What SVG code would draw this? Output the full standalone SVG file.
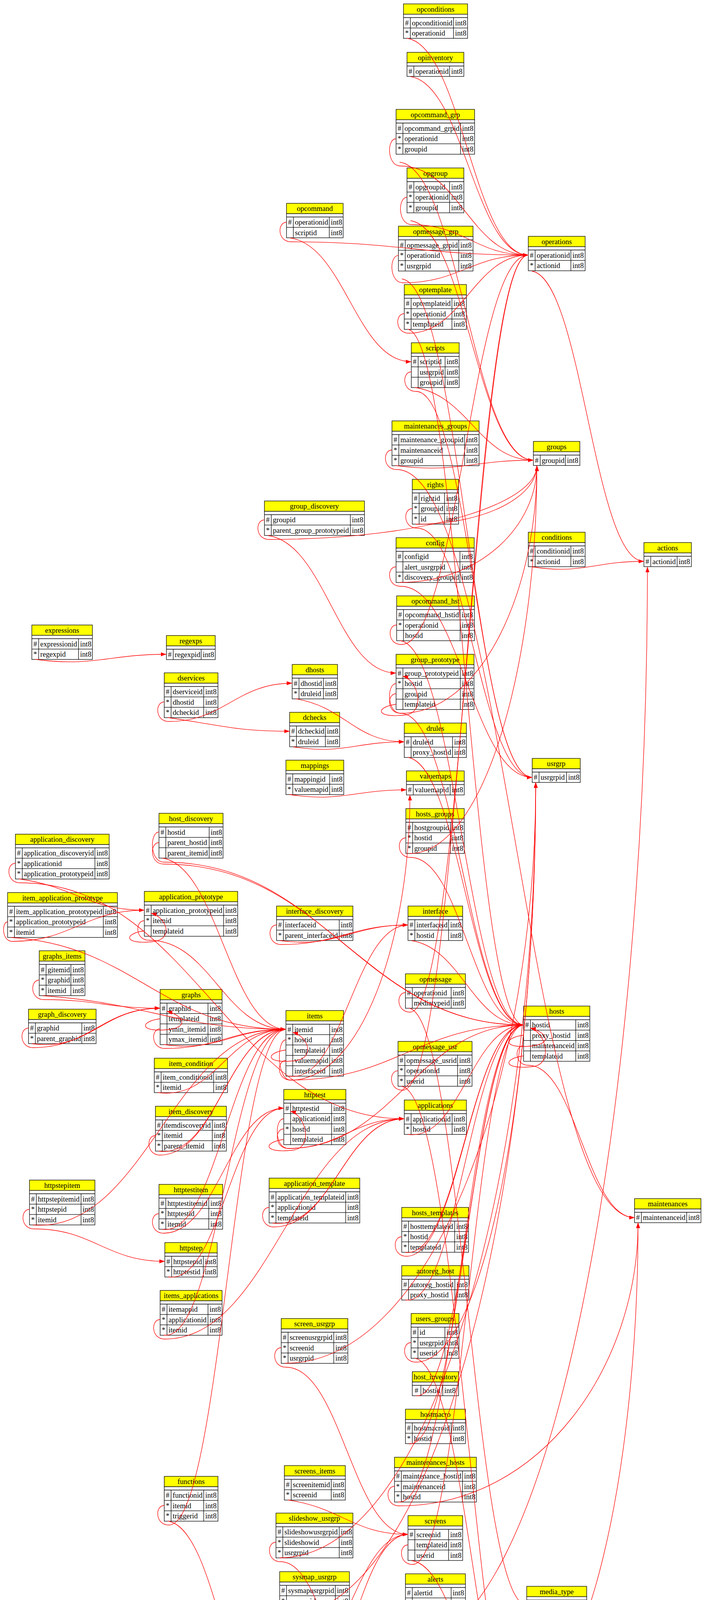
<svg xmlns="http://www.w3.org/2000/svg" width="1810" height="5723" viewBox="0 0 1810 5723">
<style>
text{font-family:"Liberation Serif","Times New Roman",serif;font-size:18.67px;fill:#000}
.t{text-anchor:middle}
.h{fill:#ff0;stroke:#000;stroke-width:1.3}
.b{fill:#fff;stroke:#000;stroke-width:1.3}
#nodes path{fill:none;stroke:#000;stroke-width:1.3}
#edges path{fill:none;stroke:#f00;stroke-width:1.3;marker-end:url(#ah)}
</style>
<defs><marker id="ah" markerUnits="userSpaceOnUse" markerWidth="14" markerHeight="10" refX="14" refY="5" orient="auto"><path d="M0,0L14,5L0,10z" fill="#f00"/></marker></defs>
<rect width="1810" height="5723" fill="#fff"/>
<g id="nodes">
<g id="opconditions" transform="translate(1033 10)"><rect class="h" width="164" height="26.5"/><rect class="b" y="26.5" width="164" height="61.7"/><path d="M0 35H164M0 61.6H164M17.5 35V88.2M128 35V88.2"/><text class="t" x="82" y="19.5">opconditions</text><text y="54.5"><tspan x="4">#</tspan><tspan x="21.5">opconditionid</tspan><tspan x="132">int8</tspan></text><text y="81.1"><tspan x="4">*</tspan><tspan x="21.5">operationid</tspan><tspan x="132">int8</tspan></text></g>
<g id="opinventory" transform="translate(1042 134)"><rect class="h" width="145.5" height="26.5"/><rect class="b" y="26.5" width="145.5" height="35.1"/><path d="M0 35H145.5M17.5 35V61.6M109 35V61.6"/><text class="t" x="72.75" y="19.5">opinventory</text><text y="54.5"><tspan x="4">#</tspan><tspan x="21.5">operationid</tspan><tspan x="113">int8</tspan></text></g>
<g id="opcommand_grp" transform="translate(1014 280)"><rect class="h" width="201" height="26.5"/><rect class="b" y="26.5" width="201" height="88.3"/><path d="M0 35H201M0 61.6H201M0 88.2H201M17.5 35V114.8M165 35V114.8"/><text class="t" x="100.5" y="19.5">opcommand_grp</text><text y="54.5"><tspan x="4">#</tspan><tspan x="21.5">opcommand_grpid</tspan><tspan x="169">int8</tspan></text><text y="81.1"><tspan x="4">*</tspan><tspan x="21.5">operationid</tspan><tspan x="169">int8</tspan></text><text y="107.7"><tspan x="4">*</tspan><tspan x="21.5">groupid</tspan><tspan x="169">int8</tspan></text></g>
<g id="opgroup" transform="translate(1042 430)"><rect class="h" width="145.5" height="26.5"/><rect class="b" y="26.5" width="145.5" height="88.3"/><path d="M0 35H145.5M0 61.6H145.5M0 88.2H145.5M17.5 35V114.8M109 35V114.8"/><text class="t" x="72.75" y="19.5">opgroup</text><text y="54.5"><tspan x="4">#</tspan><tspan x="21.5">opgroupid</tspan><tspan x="113">int8</tspan></text><text y="81.1"><tspan x="4">*</tspan><tspan x="21.5">operationid</tspan><tspan x="113">int8</tspan></text><text y="107.7"><tspan x="4">*</tspan><tspan x="21.5">groupid</tspan><tspan x="113">int8</tspan></text></g>
<g id="opmessage_grp" transform="translate(1020 579)"><rect class="h" width="191" height="26.5"/><rect class="b" y="26.5" width="191" height="88.3"/><path d="M0 35H191M0 61.6H191M0 88.2H191M17.5 35V114.8M154.5 35V114.8"/><text class="t" x="95.5" y="19.5">opmessage_grp</text><text y="54.5"><tspan x="4">#</tspan><tspan x="21.5">opmessage_grpid</tspan><tspan x="158.5">int8</tspan></text><text y="81.1"><tspan x="4">*</tspan><tspan x="21.5">operationid</tspan><tspan x="158.5">int8</tspan></text><text y="107.7"><tspan x="4">*</tspan><tspan x="21.5">usrgrpid</tspan><tspan x="158.5">int8</tspan></text></g>
<g id="optemplate" transform="translate(1035 728.5)"><rect class="h" width="159" height="26.5"/><rect class="b" y="26.5" width="159" height="88.3"/><path d="M0 35H159M0 61.6H159M0 88.2H159M17.5 35V114.8M122 35V114.8"/><text class="t" x="79.5" y="19.5">optemplate</text><text y="54.5"><tspan x="4">#</tspan><tspan x="21.5">optemplateid</tspan><tspan x="126">int8</tspan></text><text y="81.1"><tspan x="4">*</tspan><tspan x="21.5">operationid</tspan><tspan x="126">int8</tspan></text><text y="107.7"><tspan x="4">*</tspan><tspan x="21.5">templateid</tspan><tspan x="126">int8</tspan></text></g>
<g id="opcommand" transform="translate(733.5 520.5)"><rect class="h" width="145" height="26.5"/><rect class="b" y="26.5" width="145" height="61.7"/><path d="M0 35H145M0 61.6H145M17.5 35V88.2M109.5 35V88.2"/><text class="t" x="72.5" y="19.5">opcommand</text><text y="54.5"><tspan x="4">#</tspan><tspan x="21.5">operationid</tspan><tspan x="113.5">int8</tspan></text><text y="81.1"><tspan x="21.5">scriptid</tspan><tspan x="113.5">int8</tspan></text></g>
<g id="scripts" transform="translate(1053 877.5)"><rect class="h" width="122.5" height="26.5"/><rect class="b" y="26.5" width="122.5" height="88.3"/><path d="M0 35H122.5M0 61.6H122.5M0 88.2H122.5M17.5 35V114.8M86.5 35V114.8"/><text class="t" x="61.25" y="19.5">scripts</text><text y="54.5"><tspan x="4">#</tspan><tspan x="21.5">scriptid</tspan><tspan x="90.5">int8</tspan></text><text y="81.1"><tspan x="21.5">usrgrpid</tspan><tspan x="90.5">int8</tspan></text><text y="107.7"><tspan x="21.5">groupid</tspan><tspan x="90.5">int8</tspan></text></g>
<g id="maintenances_groups" transform="translate(1003.5 1077.5)"><rect class="h" width="223" height="26.5"/><rect class="b" y="26.5" width="223" height="88.3"/><path d="M0 35H223M0 61.6H223M0 88.2H223M17.5 35V114.8M186 35V114.8"/><text class="t" x="111.5" y="19.5">maintenances_groups</text><text y="54.5"><tspan x="4">#</tspan><tspan x="21.5">maintenance_groupid</tspan><tspan x="190">int8</tspan></text><text y="81.1"><tspan x="4">*</tspan><tspan x="21.5">maintenanceid</tspan><tspan x="190">int8</tspan></text><text y="107.7"><tspan x="4">*</tspan><tspan x="21.5">groupid</tspan><tspan x="190">int8</tspan></text></g>
<g id="rights" transform="translate(1055.5 1227)"><rect class="h" width="118.5" height="26.5"/><rect class="b" y="26.5" width="118.5" height="88.3"/><path d="M0 35H118.5M0 61.6H118.5M0 88.2H118.5M17.5 35V114.8M82.5 35V114.8"/><text class="t" x="59.25" y="19.5">rights</text><text y="54.5"><tspan x="4">#</tspan><tspan x="21.5">rightid</tspan><tspan x="86.5">int8</tspan></text><text y="81.1"><tspan x="4">*</tspan><tspan x="21.5">groupid</tspan><tspan x="86.5">int8</tspan></text><text y="107.7"><tspan x="4">*</tspan><tspan x="21.5">id</tspan><tspan x="86.5">int8</tspan></text></g>
<g id="config" transform="translate(1014 1376.5)"><rect class="h" width="200" height="26.5"/><rect class="b" y="26.5" width="200" height="88.3"/><path d="M0 35H200M0 61.6H200M0 88.2H200M17.5 35V114.8M163.5 35V114.8"/><text class="t" x="100" y="19.5">config</text><text y="54.5"><tspan x="4">#</tspan><tspan x="21.5">configid</tspan><tspan x="167.5">int8</tspan></text><text y="81.1"><tspan x="21.5">alert_usrgrpid</tspan><tspan x="167.5">int8</tspan></text><text y="107.7"><tspan x="4">*</tspan><tspan x="21.5">discovery_groupid</tspan><tspan x="167.5">int8</tspan></text></g>
<g id="opcommand_hst" transform="translate(1015.5 1525.5)"><rect class="h" width="199" height="26.5"/><rect class="b" y="26.5" width="199" height="88.3"/><path d="M0 35H199M0 61.6H199M0 88.2H199M17.5 35V114.8M162.5 35V114.8"/><text class="t" x="99.5" y="19.5">opcommand_hst</text><text y="54.5"><tspan x="4">#</tspan><tspan x="21.5">opcommand_hstid</tspan><tspan x="166.5">int8</tspan></text><text y="81.1"><tspan x="4">*</tspan><tspan x="21.5">operationid</tspan><tspan x="166.5">int8</tspan></text><text y="107.7"><tspan x="21.5">hostid</tspan><tspan x="166.5">int8</tspan></text></g>
<g id="group_discovery" transform="translate(677 1282.5)"><rect class="h" width="256" height="26.5"/><rect class="b" y="26.5" width="256" height="61.7"/><path d="M0 35H256M0 61.6H256M17.5 35V88.2M220 35V88.2"/><text class="t" x="128" y="19.5">group_discovery</text><text y="54.5"><tspan x="4">#</tspan><tspan x="21.5">groupid</tspan><tspan x="224">int8</tspan></text><text y="81.1"><tspan x="4">*</tspan><tspan x="21.5">parent_group_prototypeid</tspan><tspan x="224">int8</tspan></text></g>
<g id="operations" transform="translate(1352.5 605)"><rect class="h" width="145.5" height="26.5"/><rect class="b" y="26.5" width="145.5" height="61.7"/><path d="M0 35H145.5M0 61.6H145.5M17.5 35V88.2M109 35V88.2"/><text class="t" x="72.75" y="19.5">operations</text><text y="54.5"><tspan x="4">#</tspan><tspan x="21.5">operationid</tspan><tspan x="113">int8</tspan></text><text y="81.1"><tspan x="4">*</tspan><tspan x="21.5">actionid</tspan><tspan x="113">int8</tspan></text></g>
<g id="groups" transform="translate(1365.5 1130)"><rect class="h" width="119" height="26.5"/><rect class="b" y="26.5" width="119" height="35.1"/><path d="M0 35H119M17.5 35V61.6M82 35V61.6"/><text class="t" x="59.5" y="19.5">groups</text><text y="54.5"><tspan x="4">#</tspan><tspan x="21.5">groupid</tspan><tspan x="86">int8</tspan></text></g>
<g id="conditions" transform="translate(1352.5 1362.5)"><rect class="h" width="145.5" height="26.5"/><rect class="b" y="26.5" width="145.5" height="61.7"/><path d="M0 35H145.5M0 61.6H145.5M17.5 35V88.2M109 35V88.2"/><text class="t" x="72.75" y="19.5">conditions</text><text y="54.5"><tspan x="4">#</tspan><tspan x="21.5">conditionid</tspan><tspan x="113">int8</tspan></text><text y="81.1"><tspan x="4">*</tspan><tspan x="21.5">actionid</tspan><tspan x="113">int8</tspan></text></g>
<g id="actions" transform="translate(1648.5 1389)"><rect class="h" width="121.5" height="26.5"/><rect class="b" y="26.5" width="121.5" height="35.1"/><path d="M0 35H121.5M17.5 35V61.6M85 35V61.6"/><text class="t" x="60.75" y="19.5">actions</text><text y="54.5"><tspan x="4">#</tspan><tspan x="21.5">actionid</tspan><tspan x="89">int8</tspan></text></g>
<g id="expressions" transform="translate(81.5 1600)"><rect class="h" width="155" height="26.5"/><rect class="b" y="26.5" width="155" height="61.7"/><path d="M0 35H155M0 61.6H155M17.5 35V88.2M119.5 35V88.2"/><text class="t" x="77.5" y="19.5">expressions</text><text y="54.5"><tspan x="4">#</tspan><tspan x="21.5">expressionid</tspan><tspan x="123.5">int8</tspan></text><text y="81.1"><tspan x="4">*</tspan><tspan x="21.5">regexpid</tspan><tspan x="123.5">int8</tspan></text></g>
<g id="regexps" transform="translate(426 1627)"><rect class="h" width="125" height="26.5"/><rect class="b" y="26.5" width="125" height="35.1"/><path d="M0 35H125M17.5 35V61.6M89 35V61.6"/><text class="t" x="62.5" y="19.5">regexps</text><text y="54.5"><tspan x="4">#</tspan><tspan x="21.5">regexpid</tspan><tspan x="93">int8</tspan></text></g>
<g id="dservices" transform="translate(420.5 1722.5)"><rect class="h" width="137.5" height="26.5"/><rect class="b" y="26.5" width="137.5" height="88.3"/><path d="M0 35H137.5M0 61.6H137.5M0 88.2H137.5M17.5 35V114.8M101 35V114.8"/><text class="t" x="68.75" y="19.5">dservices</text><text y="54.5"><tspan x="4">#</tspan><tspan x="21.5">dserviceid</tspan><tspan x="105">int8</tspan></text><text y="81.1"><tspan x="4">*</tspan><tspan x="21.5">dhostid</tspan><tspan x="105">int8</tspan></text><text y="107.7"><tspan x="4">*</tspan><tspan x="21.5">dcheckid</tspan><tspan x="105">int8</tspan></text></g>
<g id="dhosts" transform="translate(748 1701)"><rect class="h" width="116" height="26.5"/><rect class="b" y="26.5" width="116" height="61.7"/><path d="M0 35H116M0 61.6H116M17.5 35V88.2M80 35V88.2"/><text class="t" x="58" y="19.5">dhosts</text><text y="54.5"><tspan x="4">#</tspan><tspan x="21.5">dhostid</tspan><tspan x="84">int8</tspan></text><text y="81.1"><tspan x="4">*</tspan><tspan x="21.5">druleid</tspan><tspan x="84">int8</tspan></text></g>
<g id="dchecks" transform="translate(741.5 1823.5)"><rect class="h" width="128" height="26.5"/><rect class="b" y="26.5" width="128" height="61.7"/><path d="M0 35H128M0 61.6H128M17.5 35V88.2M91.5 35V88.2"/><text class="t" x="64" y="19.5">dchecks</text><text y="54.5"><tspan x="4">#</tspan><tspan x="21.5">dcheckid</tspan><tspan x="95.5">int8</tspan></text><text y="81.1"><tspan x="4">*</tspan><tspan x="21.5">druleid</tspan><tspan x="95.5">int8</tspan></text></g>
<g id="mappings" transform="translate(732 1946)"><rect class="h" width="148" height="26.5"/><rect class="b" y="26.5" width="148" height="61.7"/><path d="M0 35H148M0 61.6H148M17.5 35V88.2M112 35V88.2"/><text class="t" x="74" y="19.5">mappings</text><text y="54.5"><tspan x="4">#</tspan><tspan x="21.5">mappingid</tspan><tspan x="116">int8</tspan></text><text y="81.1"><tspan x="4">*</tspan><tspan x="21.5">valuemapid</tspan><tspan x="116">int8</tspan></text></g>
<g id="host_discovery" transform="translate(407 2082)"><rect class="h" width="164" height="26.5"/><rect class="b" y="26.5" width="164" height="88.3"/><path d="M0 35H164M0 61.6H164M0 88.2H164M17.5 35V114.8M128.5 35V114.8"/><text class="t" x="82" y="19.5">host_discovery</text><text y="54.5"><tspan x="4">#</tspan><tspan x="21.5">hostid</tspan><tspan x="132.5">int8</tspan></text><text y="81.1"><tspan x="21.5">parent_hostid</tspan><tspan x="132.5">int8</tspan></text><text y="107.7"><tspan x="21.5">parent_itemid</tspan><tspan x="132.5">int8</tspan></text></g>
<g id="application_discovery" transform="translate(39.5 2135.5)"><rect class="h" width="240" height="26.5"/><rect class="b" y="26.5" width="240" height="88.3"/><path d="M0 35H240M0 61.6H240M0 88.2H240M17.5 35V114.8M203.5 35V114.8"/><text class="t" x="120" y="19.5">application_discovery</text><text y="54.5"><tspan x="4">#</tspan><tspan x="21.5">application_discoveryid</tspan><tspan x="207.5">int8</tspan></text><text y="81.1"><tspan x="4">*</tspan><tspan x="21.5">applicationid</tspan><tspan x="207.5">int8</tspan></text><text y="107.7"><tspan x="4">*</tspan><tspan x="21.5">application_prototypeid</tspan><tspan x="207.5">int8</tspan></text></g>
<g id="item_application_prototype" transform="translate(19.5 2285)"><rect class="h" width="281" height="26.5"/><rect class="b" y="26.5" width="281" height="88.3"/><path d="M0 35H281M0 61.6H281M0 88.2H281M17.5 35V114.8M245 35V114.8"/><text class="t" x="140.5" y="19.5">item_application_prototype</text><text y="54.5"><tspan x="4">#</tspan><tspan x="21.5">item_application_prototypeid</tspan><tspan x="249">int8</tspan></text><text y="81.1"><tspan x="4">*</tspan><tspan x="21.5">application_prototypeid</tspan><tspan x="249">int8</tspan></text><text y="107.7"><tspan x="4">*</tspan><tspan x="21.5">itemid</tspan><tspan x="249">int8</tspan></text></g>
<g id="application_prototype" transform="translate(369.5 2282)"><rect class="h" width="239" height="26.5"/><rect class="b" y="26.5" width="239" height="88.3"/><path d="M0 35H239M0 61.6H239M0 88.2H239M17.5 35V114.8M203 35V114.8"/><text class="t" x="119.5" y="19.5">application_prototype</text><text y="54.5"><tspan x="4">#</tspan><tspan x="21.5">application_prototypeid</tspan><tspan x="207">int8</tspan></text><text y="81.1"><tspan x="4">*</tspan><tspan x="21.5">itemid</tspan><tspan x="207">int8</tspan></text><text y="107.7"><tspan x="21.5">templateid</tspan><tspan x="207">int8</tspan></text></g>
<g id="interface_discovery" transform="translate(708 2319.5)"><rect class="h" width="195.5" height="26.5"/><rect class="b" y="26.5" width="195.5" height="61.7"/><path d="M0 35H195.5M0 61.6H195.5M17.5 35V88.2M160.5 35V88.2"/><text class="t" x="97.75" y="19.5">interface_discovery</text><text y="54.5"><tspan x="4">#</tspan><tspan x="21.5">interfaceid</tspan><tspan x="164.5">int8</tspan></text><text y="81.1"><tspan x="4">*</tspan><tspan x="21.5">parent_interfaceid</tspan><tspan x="164.5">int8</tspan></text></g>
<g id="graphs_items" transform="translate(100.5 2434)"><rect class="h" width="117" height="26.5"/><rect class="b" y="26.5" width="117" height="88.3"/><path d="M0 35H117M0 61.6H117M0 88.2H117M17.5 35V114.8M81 35V114.8"/><text class="t" x="58.5" y="19.5">graphs_items</text><text y="54.5"><tspan x="4">#</tspan><tspan x="21.5">gitemid</tspan><tspan x="85">int8</tspan></text><text y="81.1"><tspan x="4">*</tspan><tspan x="21.5">graphid</tspan><tspan x="85">int8</tspan></text><text y="107.7"><tspan x="4">*</tspan><tspan x="21.5">itemid</tspan><tspan x="85">int8</tspan></text></g>
<g id="graphs" transform="translate(410 2533)"><rect class="h" width="158.5" height="26.5"/><rect class="b" y="26.5" width="158.5" height="114.9"/><path d="M0 35H158.5M0 61.6H158.5M0 88.2H158.5M0 114.8H158.5M17.5 35V141.4M122.5 35V141.4"/><text class="t" x="79.25" y="19.5">graphs</text><text y="54.5"><tspan x="4">#</tspan><tspan x="21.5">graphid</tspan><tspan x="126.5">int8</tspan></text><text y="81.1"><tspan x="21.5">templateid</tspan><tspan x="126.5">int8</tspan></text><text y="107.7"><tspan x="21.5">ymin_itemid</tspan><tspan x="126.5">int8</tspan></text><text y="134.3"><tspan x="21.5">ymax_itemid</tspan><tspan x="126.5">int8</tspan></text></g>
<g id="graph_discovery" transform="translate(73 2583.5)"><rect class="h" width="173" height="26.5"/><rect class="b" y="26.5" width="173" height="61.7"/><path d="M0 35H173M0 61.6H173M17.5 35V88.2M136.5 35V88.2"/><text class="t" x="86.5" y="19.5">graph_discovery</text><text y="54.5"><tspan x="4">#</tspan><tspan x="21.5">graphid</tspan><tspan x="140.5">int8</tspan></text><text y="81.1"><tspan x="4">*</tspan><tspan x="21.5">parent_graphid</tspan><tspan x="140.5">int8</tspan></text></g>
<g id="items" transform="translate(732 2587)"><rect class="h" width="147.5" height="26.5"/><rect class="b" y="26.5" width="147.5" height="141.5"/><path d="M0 35H147.5M0 61.6H147.5M0 88.2H147.5M0 114.8H147.5M0 141.4H147.5M17.5 35V168M112 35V168"/><text class="t" x="73.75" y="19.5">items</text><text y="54.5"><tspan x="4">#</tspan><tspan x="21.5">itemid</tspan><tspan x="116">int8</tspan></text><text y="81.1"><tspan x="4">*</tspan><tspan x="21.5">hostid</tspan><tspan x="116">int8</tspan></text><text y="107.7"><tspan x="21.5">templateid</tspan><tspan x="116">int8</tspan></text><text y="134.3"><tspan x="21.5">valuemapid</tspan><tspan x="116">int8</tspan></text><text y="160.9"><tspan x="21.5">interfaceid</tspan><tspan x="116">int8</tspan></text></g>
<g id="item_condition" transform="translate(395 2709)"><rect class="h" width="187.5" height="26.5"/><rect class="b" y="26.5" width="187.5" height="61.7"/><path d="M0 35H187.5M0 61.6H187.5M17.5 35V88.2M152 35V88.2"/><text class="t" x="93.75" y="19.5">item_condition</text><text y="54.5"><tspan x="4">#</tspan><tspan x="21.5">item_conditionid</tspan><tspan x="156">int8</tspan></text><text y="81.1"><tspan x="4">*</tspan><tspan x="21.5">itemid</tspan><tspan x="156">int8</tspan></text></g>
<g id="group_prototype" transform="translate(1014 1675)"><rect class="h" width="199.5" height="26.5"/><rect class="b" y="26.5" width="199.5" height="114.9"/><path d="M0 35H199.5M0 61.6H199.5M0 88.2H199.5M0 114.8H199.5M17.5 35V141.4M164.5 35V141.4"/><text class="t" x="99.75" y="19.5">group_prototype</text><text y="54.5"><tspan x="4">#</tspan><tspan x="21.5">group_prototypeid</tspan><tspan x="168.5">int8</tspan></text><text y="81.1"><tspan x="4">*</tspan><tspan x="21.5">hostid</tspan><tspan x="168.5">int8</tspan></text><text y="107.7"><tspan x="21.5">groupid</tspan><tspan x="168.5">int8</tspan></text><text y="134.3"><tspan x="21.5">templateid</tspan><tspan x="168.5">int8</tspan></text></g>
<g id="drules" transform="translate(1035 1851)"><rect class="h" width="159" height="26.5"/><rect class="b" y="26.5" width="159" height="61.7"/><path d="M0 35H159M0 61.6H159M17.5 35V88.2M123.5 35V88.2"/><text class="t" x="79.5" y="19.5">drules</text><text y="54.5"><tspan x="4">#</tspan><tspan x="21.5">druleid</tspan><tspan x="127.5">int8</tspan></text><text y="81.1"><tspan x="21.5">proxy_hostid</tspan><tspan x="127.5">int8</tspan></text></g>
<g id="valuemaps" transform="translate(1040.5 1973.5)"><rect class="h" width="148" height="26.5"/><rect class="b" y="26.5" width="148" height="35.1"/><path d="M0 35H148M17.5 35V61.6M112 35V61.6"/><text class="t" x="74" y="19.5">valuemaps</text><text y="54.5"><tspan x="4">#</tspan><tspan x="21.5">valuemapid</tspan><tspan x="116">int8</tspan></text></g>
<g id="hosts_groups" transform="translate(1039 2070)"><rect class="h" width="149.5" height="26.5"/><rect class="b" y="26.5" width="149.5" height="88.3"/><path d="M0 35H149.5M0 61.6H149.5M0 88.2H149.5M17.5 35V114.8M114 35V114.8"/><text class="t" x="74.75" y="19.5">hosts_groups</text><text y="54.5"><tspan x="4">#</tspan><tspan x="21.5">hostgroupid</tspan><tspan x="118">int8</tspan></text><text y="81.1"><tspan x="4">*</tspan><tspan x="21.5">hostid</tspan><tspan x="118">int8</tspan></text><text y="107.7"><tspan x="4">*</tspan><tspan x="21.5">groupid</tspan><tspan x="118">int8</tspan></text></g>
<g id="usrgrp" transform="translate(1362.5 1941.5)"><rect class="h" width="123" height="26.5"/><rect class="b" y="26.5" width="123" height="35.1"/><path d="M0 35H123M17.5 35V61.6M88 35V61.6"/><text class="t" x="61.5" y="19.5">usrgrp</text><text y="54.5"><tspan x="4">#</tspan><tspan x="21.5">usrgrpid</tspan><tspan x="92">int8</tspan></text></g>
<g id="interface" transform="translate(1044.5 2319.5)"><rect class="h" width="140" height="26.5"/><rect class="b" y="26.5" width="140" height="61.7"/><path d="M0 35H140M0 61.6H140M17.5 35V88.2M104 35V88.2"/><text class="t" x="70" y="19.5">interface</text><text y="54.5"><tspan x="4">#</tspan><tspan x="21.5">interfaceid</tspan><tspan x="108">int8</tspan></text><text y="81.1"><tspan x="4">*</tspan><tspan x="21.5">hostid</tspan><tspan x="108">int8</tspan></text></g>
<g id="opmessage" transform="translate(1038 2493)"><rect class="h" width="153.5" height="26.5"/><rect class="b" y="26.5" width="153.5" height="61.7"/><path d="M0 35H153.5M0 61.6H153.5M17.5 35V88.2M117 35V88.2"/><text class="t" x="76.75" y="19.5">opmessage</text><text y="54.5"><tspan x="4">#</tspan><tspan x="21.5">operationid</tspan><tspan x="121">int8</tspan></text><text y="81.1"><tspan x="21.5">mediatypeid</tspan><tspan x="121">int8</tspan></text></g>
<g id="hosts" transform="translate(1340.5 2575.5)"><rect class="h" width="169.5" height="26.5"/><rect class="b" y="26.5" width="169.5" height="114.9"/><path d="M0 35H169.5M0 61.6H169.5M0 88.2H169.5M0 114.8H169.5M17.5 35V141.4M133.5 35V141.4"/><text class="t" x="84.75" y="19.5">hosts</text><text y="54.5"><tspan x="4">#</tspan><tspan x="21.5">hostid</tspan><tspan x="137.5">int8</tspan></text><text y="81.1"><tspan x="21.5">proxy_hostid</tspan><tspan x="137.5">int8</tspan></text><text y="107.7"><tspan x="21.5">maintenanceid</tspan><tspan x="137.5">int8</tspan></text><text y="134.3"><tspan x="21.5">templateid</tspan><tspan x="137.5">int8</tspan></text></g>
<g id="opmessage_usr" transform="translate(1019 2666)"><rect class="h" width="189.5" height="26.5"/><rect class="b" y="26.5" width="189.5" height="88.3"/><path d="M0 35H189.5M0 61.6H189.5M0 88.2H189.5M17.5 35V114.8M152.5 35V114.8"/><text class="t" x="94.75" y="19.5">opmessage_usr</text><text y="54.5"><tspan x="4">#</tspan><tspan x="21.5">opmessage_usrid</tspan><tspan x="156.5">int8</tspan></text><text y="81.1"><tspan x="4">*</tspan><tspan x="21.5">operationid</tspan><tspan x="156.5">int8</tspan></text><text y="107.7"><tspan x="4">*</tspan><tspan x="21.5">userid</tspan><tspan x="156.5">int8</tspan></text></g>
<g id="httptest" transform="translate(726.5 2789)"><rect class="h" width="159" height="26.5"/><rect class="b" y="26.5" width="159" height="114.9"/><path d="M0 35H159M0 61.6H159M0 88.2H159M0 114.8H159M17.5 35V141.4M122.5 35V141.4"/><text class="t" x="79.5" y="19.5">httptest</text><text y="54.5"><tspan x="4">#</tspan><tspan x="21.5">httptestid</tspan><tspan x="126.5">int8</tspan></text><text y="81.1"><tspan x="21.5">applicationid</tspan><tspan x="126.5">int8</tspan></text><text y="107.7"><tspan x="4">*</tspan><tspan x="21.5">hostid</tspan><tspan x="126.5">int8</tspan></text><text y="134.3"><tspan x="21.5">templateid</tspan><tspan x="126.5">int8</tspan></text></g>
<g id="item_discovery" transform="translate(398 2832)"><rect class="h" width="181.5" height="26.5"/><rect class="b" y="26.5" width="181.5" height="88.3"/><path d="M0 35H181.5M0 61.6H181.5M0 88.2H181.5M17.5 35V114.8M145.5 35V114.8"/><text class="t" x="90.75" y="19.5">item_discovery</text><text y="54.5"><tspan x="4">#</tspan><tspan x="21.5">itemdiscoveryid</tspan><tspan x="149.5">int8</tspan></text><text y="81.1"><tspan x="4">*</tspan><tspan x="21.5">itemid</tspan><tspan x="149.5">int8</tspan></text><text y="107.7"><tspan x="4">*</tspan><tspan x="21.5">parent_itemid</tspan><tspan x="149.5">int8</tspan></text></g>
<g id="httpstepitem" transform="translate(75.5 3021)"><rect class="h" width="167.5" height="26.5"/><rect class="b" y="26.5" width="167.5" height="88.3"/><path d="M0 35H167.5M0 61.6H167.5M0 88.2H167.5M17.5 35V114.8M132 35V114.8"/><text class="t" x="83.75" y="19.5">httpstepitem</text><text y="54.5"><tspan x="4">#</tspan><tspan x="21.5">httpstepitemid</tspan><tspan x="136">int8</tspan></text><text y="81.1"><tspan x="4">*</tspan><tspan x="21.5">httpstepid</tspan><tspan x="136">int8</tspan></text><text y="107.7"><tspan x="4">*</tspan><tspan x="21.5">itemid</tspan><tspan x="136">int8</tspan></text></g>
<g id="httptestitem" transform="translate(407 3032)"><rect class="h" width="163" height="26.5"/><rect class="b" y="26.5" width="163" height="88.3"/><path d="M0 35H163M0 61.6H163M0 88.2H163M17.5 35V114.8M127.5 35V114.8"/><text class="t" x="81.5" y="19.5">httptestitem</text><text y="54.5"><tspan x="4">#</tspan><tspan x="21.5">httptestitemid</tspan><tspan x="131.5">int8</tspan></text><text y="81.1"><tspan x="4">*</tspan><tspan x="21.5">httptestid</tspan><tspan x="131.5">int8</tspan></text><text y="107.7"><tspan x="4">*</tspan><tspan x="21.5">itemid</tspan><tspan x="131.5">int8</tspan></text></g>
<g id="application_template" transform="translate(689 3016)"><rect class="h" width="232" height="26.5"/><rect class="b" y="26.5" width="232" height="88.3"/><path d="M0 35H232M0 61.6H232M0 88.2H232M17.5 35V114.8M196 35V114.8"/><text class="t" x="116" y="19.5">application_template</text><text y="54.5"><tspan x="4">#</tspan><tspan x="21.5">application_templateid</tspan><tspan x="200">int8</tspan></text><text y="81.1"><tspan x="4">*</tspan><tspan x="21.5">applicationid</tspan><tspan x="200">int8</tspan></text><text y="107.7"><tspan x="4">*</tspan><tspan x="21.5">templateid</tspan><tspan x="200">int8</tspan></text></g>
<g id="httpstep" transform="translate(422 3181)"><rect class="h" width="134" height="26.5"/><rect class="b" y="26.5" width="134" height="61.7"/><path d="M0 35H134M0 61.6H134M17.5 35V88.2M98.5 35V88.2"/><text class="t" x="67" y="19.5">httpstep</text><text y="54.5"><tspan x="4">#</tspan><tspan x="21.5">httpstepid</tspan><tspan x="102.5">int8</tspan></text><text y="81.1"><tspan x="4">*</tspan><tspan x="21.5">httptestid</tspan><tspan x="102.5">int8</tspan></text></g>
<g id="items_applications" transform="translate(410 3303.5)"><rect class="h" width="158.5" height="26.5"/><rect class="b" y="26.5" width="158.5" height="88.3"/><path d="M0 35H158.5M0 61.6H158.5M0 88.2H158.5M17.5 35V114.8M122.5 35V114.8"/><text class="t" x="79.25" y="19.5">items_applications</text><text y="54.5"><tspan x="4">#</tspan><tspan x="21.5">itemappid</tspan><tspan x="126.5">int8</tspan></text><text y="81.1"><tspan x="4">*</tspan><tspan x="21.5">applicationid</tspan><tspan x="126.5">int8</tspan></text><text y="107.7"><tspan x="4">*</tspan><tspan x="21.5">itemid</tspan><tspan x="126.5">int8</tspan></text></g>
<g id="screen_usrgrp" transform="translate(720 3375.5)"><rect class="h" width="170.5" height="26.5"/><rect class="b" y="26.5" width="170.5" height="88.3"/><path d="M0 35H170.5M0 61.6H170.5M0 88.2H170.5M17.5 35V114.8M134.5 35V114.8"/><text class="t" x="85.25" y="19.5">screen_usrgrp</text><text y="54.5"><tspan x="4">#</tspan><tspan x="21.5">screenusrgrpid</tspan><tspan x="138.5">int8</tspan></text><text y="81.1"><tspan x="4">*</tspan><tspan x="21.5">screenid</tspan><tspan x="138.5">int8</tspan></text><text y="107.7"><tspan x="4">*</tspan><tspan x="21.5">usrgrpid</tspan><tspan x="138.5">int8</tspan></text></g>
<g id="functions" transform="translate(420.5 3779.5)"><rect class="h" width="137.5" height="26.5"/><rect class="b" y="26.5" width="137.5" height="88.3"/><path d="M0 35H137.5M0 61.6H137.5M0 88.2H137.5M17.5 35V114.8M101 35V114.8"/><text class="t" x="68.75" y="19.5">functions</text><text y="54.5"><tspan x="4">#</tspan><tspan x="21.5">functionid</tspan><tspan x="105">int8</tspan></text><text y="81.1"><tspan x="4">*</tspan><tspan x="21.5">itemid</tspan><tspan x="105">int8</tspan></text><text y="107.7"><tspan x="4">*</tspan><tspan x="21.5">triggerid</tspan><tspan x="105">int8</tspan></text></g>
<g id="screens_items" transform="translate(728 3752)"><rect class="h" width="156" height="26.5"/><rect class="b" y="26.5" width="156" height="61.7"/><path d="M0 35H156M0 61.6H156M17.5 35V88.2M120 35V88.2"/><text class="t" x="78" y="19.5">screens_items</text><text y="54.5"><tspan x="4">#</tspan><tspan x="21.5">screenitemid</tspan><tspan x="124">int8</tspan></text><text y="81.1"><tspan x="4">*</tspan><tspan x="21.5">screenid</tspan><tspan x="124">int8</tspan></text></g>
<g id="slideshow_usrgrp" transform="translate(706.5 3873.5)"><rect class="h" width="197" height="26.5"/><rect class="b" y="26.5" width="197" height="88.3"/><path d="M0 35H197M0 61.6H197M0 88.2H197M17.5 35V114.8M162 35V114.8"/><text class="t" x="98.5" y="19.5">slideshow_usrgrp</text><text y="54.5"><tspan x="4">#</tspan><tspan x="21.5">slideshowusrgrpid</tspan><tspan x="166">int8</tspan></text><text y="81.1"><tspan x="4">*</tspan><tspan x="21.5">slideshowid</tspan><tspan x="166">int8</tspan></text><text y="107.7"><tspan x="4">*</tspan><tspan x="21.5">usrgrpid</tspan><tspan x="166">int8</tspan></text></g>
<g id="applications" transform="translate(1035 2816)"><rect class="h" width="159" height="26.5"/><rect class="b" y="26.5" width="159" height="61.7"/><path d="M0 35H159M0 61.6H159M17.5 35V88.2M122.5 35V88.2"/><text class="t" x="79.5" y="19.5">applications</text><text y="54.5"><tspan x="4">#</tspan><tspan x="21.5">applicationid</tspan><tspan x="126.5">int8</tspan></text><text y="81.1"><tspan x="4">*</tspan><tspan x="21.5">hostid</tspan><tspan x="126.5">int8</tspan></text></g>
<g id="maintenances" transform="translate(1624.5 3068.5)"><rect class="h" width="170" height="26.5"/><rect class="b" y="26.5" width="170" height="35.1"/><path d="M0 35H170M17.5 35V61.6M133.5 35V61.6"/><text class="t" x="85" y="19.5">maintenances</text><text y="54.5"><tspan x="4">#</tspan><tspan x="21.5">maintenanceid</tspan><tspan x="137.5">int8</tspan></text></g>
<g id="hosts_templates" transform="translate(1028.5 3091)"><rect class="h" width="171" height="26.5"/><rect class="b" y="26.5" width="171" height="88.3"/><path d="M0 35H171M0 61.6H171M0 88.2H171M17.5 35V114.8M135.5 35V114.8"/><text class="t" x="85.5" y="19.5">hosts_templates</text><text y="54.5"><tspan x="4">#</tspan><tspan x="21.5">hosttemplateid</tspan><tspan x="139.5">int8</tspan></text><text y="81.1"><tspan x="4">*</tspan><tspan x="21.5">hostid</tspan><tspan x="139.5">int8</tspan></text><text y="107.7"><tspan x="4">*</tspan><tspan x="21.5">templateid</tspan><tspan x="139.5">int8</tspan></text></g>
<g id="autoreg_host" transform="translate(1028.5 3240)"><rect class="h" width="172" height="26.5"/><rect class="b" y="26.5" width="172" height="61.7"/><path d="M0 35H172M0 61.6H172M17.5 35V88.2M136 35V88.2"/><text class="t" x="86" y="19.5">autoreg_host</text><text y="54.5"><tspan x="4">#</tspan><tspan x="21.5">autoreg_hostid</tspan><tspan x="140">int8</tspan></text><text y="81.1"><tspan x="21.5">proxy_hostid</tspan><tspan x="140">int8</tspan></text></g>
<g id="users_groups" transform="translate(1052.5 3362.5)"><rect class="h" width="122.5" height="26.5"/><rect class="b" y="26.5" width="122.5" height="88.3"/><path d="M0 35H122.5M0 61.6H122.5M0 88.2H122.5M17.5 35V114.8M86.5 35V114.8"/><text class="t" x="61.25" y="19.5">users_groups</text><text y="54.5"><tspan x="4">#</tspan><tspan x="21.5">id</tspan><tspan x="90.5">int8</tspan></text><text y="81.1"><tspan x="4">*</tspan><tspan x="21.5">usrgrpid</tspan><tspan x="90.5">int8</tspan></text><text y="107.7"><tspan x="4">*</tspan><tspan x="21.5">userid</tspan><tspan x="90.5">int8</tspan></text></g>
<g id="host_inventory" transform="translate(1055.5 3511.5)"><rect class="h" width="118.5" height="26.5"/><rect class="b" y="26.5" width="118.5" height="35.1"/><path d="M0 35H118.5M22 35V61.6M78 35V61.6"/><text class="t" x="59.25" y="19.5">host_inventory</text><text y="54.5"><tspan x="6">#</tspan><tspan x="26">hostid</tspan><tspan x="82">int8</tspan></text></g>
<g id="hostmacro" transform="translate(1038 3607.5)"><rect class="h" width="153.5" height="26.5"/><rect class="b" y="26.5" width="153.5" height="61.7"/><path d="M0 35H153.5M0 61.6H153.5M17.5 35V88.2M117 35V88.2"/><text class="t" x="76.75" y="19.5">hostmacro</text><text y="54.5"><tspan x="4">#</tspan><tspan x="21.5">hostmacroid</tspan><tspan x="121">int8</tspan></text><text y="81.1"><tspan x="4">*</tspan><tspan x="21.5">hostid</tspan><tspan x="121">int8</tspan></text></g>
<g id="maintenances_hosts" transform="translate(1010 3730.5)"><rect class="h" width="209.5" height="26.5"/><rect class="b" y="26.5" width="209.5" height="88.3"/><path d="M0 35H209.5M0 61.6H209.5M0 88.2H209.5M17.5 35V114.8M174 35V114.8"/><text class="t" x="104.75" y="19.5">maintenances_hosts</text><text y="54.5"><tspan x="4">#</tspan><tspan x="21.5">maintenance_hostid</tspan><tspan x="178">int8</tspan></text><text y="81.1"><tspan x="4">*</tspan><tspan x="21.5">maintenanceid</tspan><tspan x="178">int8</tspan></text><text y="107.7"><tspan x="4">*</tspan><tspan x="21.5">hostid</tspan><tspan x="178">int8</tspan></text></g>
<g id="screens" transform="translate(1044.5 3880)"><rect class="h" width="140" height="26.5"/><rect class="b" y="26.5" width="140" height="88.3"/><path d="M0 35H140M0 61.6H140M0 88.2H140M17.5 35V114.8M104 35V114.8"/><text class="t" x="70" y="19.5">screens</text><text y="54.5"><tspan x="4">#</tspan><tspan x="21.5">screenid</tspan><tspan x="108">int8</tspan></text><text y="81.1"><tspan x="21.5">templateid</tspan><tspan x="108">int8</tspan></text><text y="107.7"><tspan x="21.5">userid</tspan><tspan x="108">int8</tspan></text></g>
<g id="sysmap_usrgrp" transform="translate(716 4023.5)"><rect class="h" width="178.5" height="26.5"/><rect class="b" y="26.5" width="178.5" height="88.3"/><path d="M0 35H178.5M0 61.6H178.5M0 88.2H178.5M17.5 35V114.8M142.5 35V114.8"/><text class="t" x="89.25" y="19.5">sysmap_usrgrp</text><text y="54.5"><tspan x="4">#</tspan><tspan x="21.5">sysmapusrgrpid</tspan><tspan x="146.5">int8</tspan></text><text y="81.1"><tspan x="4">*</tspan><tspan x="21.5">sysmapid</tspan><tspan x="146.5">int8</tspan></text><text y="107.7"><tspan x="4">*</tspan><tspan x="21.5">usrgrpid</tspan><tspan x="146.5">int8</tspan></text></g>
<g id="service_alarms" transform="translate(73.5 4109.5)"><rect class="h" width="171" height="26.5"/><rect class="b" y="26.5" width="171" height="61.7"/><path d="M0 35H171M0 61.6H171M17.5 35V88.2M135.5 35V88.2"/><text class="t" x="85.5" y="19.5">service_alarms</text><text y="54.5"><tspan x="4">#</tspan><tspan x="21.5">servicealarmid</tspan><tspan x="139.5">int8</tspan></text><text y="81.1"><tspan x="4">*</tspan><tspan x="21.5">serviceid</tspan><tspan x="139.5">int8</tspan></text></g>
<g id="screen_user" transform="translate(729.5 4173)"><rect class="h" width="153" height="26.5"/><rect class="b" y="26.5" width="153" height="88.3"/><path d="M0 35H153M0 61.6H153M0 88.2H153M17.5 35V114.8M117 35V114.8"/><text class="t" x="76.5" y="19.5">screen_user</text><text y="54.5"><tspan x="4">#</tspan><tspan x="21.5">screenuserid</tspan><tspan x="121">int8</tspan></text><text y="81.1"><tspan x="4">*</tspan><tspan x="21.5">screenid</tspan><tspan x="121">int8</tspan></text><text y="107.7"><tspan x="4">*</tspan><tspan x="21.5">userid</tspan><tspan x="121">int8</tspan></text></g>
<g id="services_links" transform="translate(75.5 4232)"><rect class="h" width="169" height="26.5"/><rect class="b" y="26.5" width="169" height="88.3"/><path d="M0 35H169M0 61.6H169M0 88.2H169M17.5 35V114.8M133.5 35V114.8"/><text class="t" x="84.5" y="19.5">services_links</text><text y="54.5"><tspan x="4">#</tspan><tspan x="21.5">linkid</tspan><tspan x="137.5">int8</tspan></text><text y="81.1"><tspan x="4">*</tspan><tspan x="21.5">serviceupid</tspan><tspan x="137.5">int8</tspan></text><text y="107.7"><tspan x="4">*</tspan><tspan x="21.5">servicedownid</tspan><tspan x="137.5">int8</tspan></text></g>
<g id="services" transform="translate(424.5 4271.5)"><rect class="h" width="128" height="26.5"/><rect class="b" y="26.5" width="128" height="61.7"/><path d="M0 35H128M0 61.6H128M17.5 35V88.2M92 35V88.2"/><text class="t" x="64" y="19.5">services</text><text y="54.5"><tspan x="4">#</tspan><tspan x="21.5">serviceid</tspan><tspan x="96">int8</tspan></text><text y="81.1"><tspan x="21.5">triggerid</tspan><tspan x="96">int8</tspan></text></g>
<g id="slides" transform="translate(730.5 4322)"><rect class="h" width="149.5" height="26.5"/><rect class="b" y="26.5" width="149.5" height="88.3"/><path d="M0 35H149.5M0 61.6H149.5M0 88.2H149.5M17.5 35V114.8M113.5 35V114.8"/><text class="t" x="74.75" y="19.5">slides</text><text y="54.5"><tspan x="4">#</tspan><tspan x="21.5">slideid</tspan><tspan x="117.5">int8</tspan></text><text y="81.1"><tspan x="4">*</tspan><tspan x="21.5">slideshowid</tspan><tspan x="117.5">int8</tspan></text><text y="107.7"><tspan x="4">*</tspan><tspan x="21.5">screenid</tspan><tspan x="117.5">int8</tspan></text></g>
<g id="services_times" transform="translate(96 4381)"><rect class="h" width="127" height="26.5"/><rect class="b" y="26.5" width="127" height="61.7"/><path d="M0 35H127M0 61.6H127M17.5 35V88.2M91.5 35V88.2"/><text class="t" x="63.5" y="19.5">services_times</text><text y="54.5"><tspan x="4">#</tspan><tspan x="21.5">timeid</tspan><tspan x="95.5">int8</tspan></text><text y="81.1"><tspan x="4">*</tspan><tspan x="21.5">serviceid</tspan><tspan x="95.5">int8</tspan></text></g>
<g id="trigger_depends" transform="translate(400.5 4444.5)"><rect class="h" width="176" height="26.5"/><rect class="b" y="26.5" width="176" height="88.3"/><path d="M0 35H176M0 61.6H176M0 88.2H176M17.5 35V114.8M140 35V114.8"/><text class="t" x="88" y="19.5">trigger_depends</text><text y="54.5"><tspan x="4">#</tspan><tspan x="21.5">triggerdepid</tspan><tspan x="144">int8</tspan></text><text y="81.1"><tspan x="4">*</tspan><tspan x="21.5">triggerid_down</tspan><tspan x="144">int8</tspan></text><text y="107.7"><tspan x="4">*</tspan><tspan x="21.5">triggerid_up</tspan><tspan x="144">int8</tspan></text></g>
<g id="triggers" transform="translate(736 4471.5)"><rect class="h" width="140" height="26.5"/><rect class="b" y="26.5" width="140" height="61.7"/><path d="M0 35H140M0 61.6H140M17.5 35V88.2M104 35V88.2"/><text class="t" x="70" y="19.5">triggers</text><text y="54.5"><tspan x="4">#</tspan><tspan x="21.5">triggerid</tspan><tspan x="108">int8</tspan></text><text y="81.1"><tspan x="21.5">templateid</tspan><tspan x="108">int8</tspan></text></g>
<g id="trigger_discovery" transform="translate(398 4594)"><rect class="h" width="181.5" height="26.5"/><rect class="b" y="26.5" width="181.5" height="61.7"/><path d="M0 35H181.5M0 61.6H181.5M17.5 35V88.2M145.5 35V88.2"/><text class="t" x="90.75" y="19.5">trigger_discovery</text><text y="54.5"><tspan x="4">#</tspan><tspan x="21.5">triggerid</tspan><tspan x="149.5">int8</tspan></text><text y="81.1"><tspan x="4">*</tspan><tspan x="21.5">parent_triggerid</tspan><tspan x="149.5">int8</tspan></text></g>
<g id="slideshow_user" transform="translate(714.5 4594)"><rect class="h" width="181.5" height="26.5"/><rect class="b" y="26.5" width="181.5" height="88.3"/><path d="M0 35H181.5M0 61.6H181.5M0 88.2H181.5M17.5 35V114.8M145.5 35V114.8"/><text class="t" x="90.75" y="19.5">slideshow_user</text><text y="54.5"><tspan x="4">#</tspan><tspan x="21.5">slideshowuserid</tspan><tspan x="149.5">int8</tspan></text><text y="81.1"><tspan x="4">*</tspan><tspan x="21.5">slideshowid</tspan><tspan x="149.5">int8</tspan></text><text y="107.7"><tspan x="4">*</tspan><tspan x="21.5">userid</tspan><tspan x="149.5">int8</tspan></text></g>
<g id="auditlog_details" transform="translate(729.5 4743)"><rect class="h" width="153" height="26.5"/><rect class="b" y="26.5" width="153" height="61.7"/><path d="M0 35H153M0 61.6H153M17.5 35V88.2M117 35V88.2"/><text class="t" x="76.5" y="19.5">auditlog_details</text><text y="54.5"><tspan x="4">#</tspan><tspan x="21.5">auditdetailid</tspan><tspan x="121">int8</tspan></text><text y="81.1"><tspan x="4">*</tspan><tspan x="21.5">auditid</tspan><tspan x="121">int8</tspan></text></g>
<g id="sysmaps_link_triggers" transform="translate(72.5 4796.5)"><rect class="h" width="175.5" height="26.5"/><rect class="b" y="26.5" width="175.5" height="88.3"/><path d="M0 35H175.5M0 61.6H175.5M0 88.2H175.5M28 35V114.8M133 35V114.8"/><text class="t" x="87.75" y="19.5">sysmaps_link_triggers</text><text y="54.5"><tspan x="5">#</tspan><tspan x="32">linktriggerid</tspan><tspan x="137">int8</tspan></text><text y="81.1"><tspan x="5">*</tspan><tspan x="32">linkid</tspan><tspan x="137">int8</tspan></text><text y="107.7"><tspan x="5">*</tspan><tspan x="32">triggerid</tspan><tspan x="137">int8</tspan></text></g>
<g id="sysmap_user" transform="translate(724 4985)"><rect class="h" width="162.5" height="26.5"/><rect class="b" y="26.5" width="162.5" height="88.3"/><path d="M0 35H162.5M0 61.6H162.5M0 88.2H162.5M17.5 35V114.8M126.5 35V114.8"/><text class="t" x="81.25" y="19.5">sysmap_user</text><text y="54.5"><tspan x="4">#</tspan><tspan x="21.5">sysmapuserid</tspan><tspan x="130.5">int8</tspan></text><text y="81.1"><tspan x="4">*</tspan><tspan x="21.5">sysmapid</tspan><tspan x="130.5">int8</tspan></text><text y="107.7"><tspan x="4">*</tspan><tspan x="21.5">userid</tspan><tspan x="130.5">int8</tspan></text></g>
<g id="sysmaps_links" transform="translate(414 5174.5)"><rect class="h" width="150.5" height="26.5"/><rect class="b" y="26.5" width="150.5" height="114.9"/><path d="M0 35H150.5M0 61.6H150.5M0 88.2H150.5M0 114.8H150.5M17.5 35V141.4M114.5 35V141.4"/><text class="t" x="75.25" y="19.5">sysmaps_links</text><text y="54.5"><tspan x="4">#</tspan><tspan x="21.5">linkid</tspan><tspan x="118.5">int8</tspan></text><text y="81.1"><tspan x="4">*</tspan><tspan x="21.5">sysmapid</tspan><tspan x="118.5">int8</tspan></text><text y="107.7"><tspan x="4">*</tspan><tspan x="21.5">selementid1</tspan><tspan x="118.5">int8</tspan></text><text y="134.3"><tspan x="4">*</tspan><tspan x="21.5">selementid2</tspan><tspan x="118.5">int8</tspan></text></g>
<g id="alerts" transform="translate(1038 4029)"><rect class="h" width="153.5" height="26.5"/><rect class="b" y="26.5" width="153.5" height="141.5"/><path d="M0 35H153.5M0 61.6H153.5M0 88.2H153.5M0 114.8H153.5M0 141.4H153.5M17.5 35V168M117 35V168"/><text class="t" x="76.75" y="19.5">alerts</text><text y="54.5"><tspan x="4">#</tspan><tspan x="21.5">alertid</tspan><tspan x="121">int8</tspan></text><text y="81.1"><tspan x="4">*</tspan><tspan x="21.5">actionid</tspan><tspan x="121">int8</tspan></text><text y="107.7"><tspan x="4">*</tspan><tspan x="21.5">eventid</tspan><tspan x="121">int8</tspan></text><text y="134.3"><tspan x="21.5">userid</tspan><tspan x="121">int8</tspan></text><text y="160.9"><tspan x="21.5">mediatypeid</tspan><tspan x="121">int8</tspan></text></g>
<g id="media_type" transform="translate(1348.5 4061)"><rect class="h" width="153.5" height="26.5"/><rect class="b" y="26.5" width="153.5" height="35.1"/><path d="M0 35H153.5M17.5 35V61.6M117 35V61.6"/><text class="t" x="76.75" y="19.5">media_type</text><text y="54.5"><tspan x="4">#</tspan><tspan x="21.5">mediatypeid</tspan><tspan x="121">int8</tspan></text></g>
<g id="events" transform="translate(1367.5 4157)"><rect class="h" width="116" height="26.5"/><rect class="b" y="26.5" width="116" height="35.1"/><path d="M0 35H116M17.5 35V61.6M79.5 35V61.6"/><text class="t" x="58" y="19.5">events</text><text y="54.5"><tspan x="4">#</tspan><tspan x="21.5">eventid</tspan><tspan x="83.5">int8</tspan></text></g>
<g id="media" transform="translate(1038 4232)"><rect class="h" width="153.5" height="26.5"/><rect class="b" y="26.5" width="153.5" height="88.3"/><path d="M0 35H153.5M0 61.6H153.5M0 88.2H153.5M17.5 35V114.8M117 35V114.8"/><text class="t" x="76.75" y="19.5">media</text><text y="54.5"><tspan x="4">#</tspan><tspan x="21.5">mediaid</tspan><tspan x="121">int8</tspan></text><text y="81.1"><tspan x="4">*</tspan><tspan x="21.5">userid</tspan><tspan x="121">int8</tspan></text><text y="107.7"><tspan x="4">*</tspan><tspan x="21.5">mediatypeid</tspan><tspan x="121">int8</tspan></text></g>
<g id="maintenances_windows" transform="translate(1295 4253.5)"><rect class="h" width="260" height="26.5"/><rect class="b" y="26.5" width="260" height="88.3"/><path d="M0 35H260M0 61.6H260M0 88.2H260M17.5 35V114.8M224 35V114.8"/><text class="t" x="130" y="19.5">maintenances_windows</text><text y="54.5"><tspan x="4">#</tspan><tspan x="21.5">maintenance_timeperiodid</tspan><tspan x="228">int8</tspan></text><text y="81.1"><tspan x="4">*</tspan><tspan x="21.5">maintenanceid</tspan><tspan x="228">int8</tspan></text><text y="107.7"><tspan x="4">*</tspan><tspan x="21.5">timeperiodid</tspan><tspan x="228">int8</tspan></text></g>
<g id="timeperiods" transform="translate(1631 4306)"><rect class="h" width="156" height="26.5"/><rect class="b" y="26.5" width="156" height="35.1"/><path d="M0 35H156M17.5 35V61.6M120 35V61.6"/><text class="t" x="78" y="19.5">timeperiods</text><text y="54.5"><tspan x="4">#</tspan><tspan x="21.5">timeperiodid</tspan><tspan x="124">int8</tspan></text></g>
<g id="acknowledges" transform="translate(1027 4381)"><rect class="h" width="173.5" height="26.5"/><rect class="b" y="26.5" width="173.5" height="88.3"/><path d="M0 35H173.5M0 61.6H173.5M0 88.2H173.5M17.5 35V114.8M137.5 35V114.8"/><text class="t" x="86.75" y="19.5">acknowledges</text><text y="54.5"><tspan x="4">#</tspan><tspan x="21.5">acknowledgeid</tspan><tspan x="141.5">int8</tspan></text><text y="81.1"><tspan x="4">*</tspan><tspan x="21.5">userid</tspan><tspan x="141.5">int8</tspan></text><text y="107.7"><tspan x="4">*</tspan><tspan x="21.5">eventid</tspan><tspan x="141.5">int8</tspan></text></g>
<g id="users" transform="translate(1370.5 4549)"><rect class="h" width="107.5" height="26.5"/><rect class="b" y="26.5" width="107.5" height="35.1"/><path d="M0 35H107.5M17.5 35V61.6M71 35V61.6"/><text class="t" x="53.75" y="19.5">users</text><text y="54.5"><tspan x="4">#</tspan><tspan x="21.5">userid</tspan><tspan x="75">int8</tspan></text></g>
<g id="slideshows" transform="translate(1039 4581)"><rect class="h" width="149.5" height="26.5"/><rect class="b" y="26.5" width="149.5" height="61.7"/><path d="M0 35H149.5M0 61.6H149.5M17.5 35V88.2M114 35V88.2"/><text class="t" x="74.75" y="19.5">slideshows</text><text y="54.5"><tspan x="4">#</tspan><tspan x="21.5">slideshowid</tspan><tspan x="118">int8</tspan></text><text y="81.1"><tspan x="4">*</tspan><tspan x="21.5">userid</tspan><tspan x="118">int8</tspan></text></g>
<g id="auditlog" transform="translate(1058 4754)"><rect class="h" width="112" height="26.5"/><rect class="b" y="26.5" width="112" height="61.7"/><path d="M0 35H112M0 61.6H112M17.5 35V88.2M75.5 35V88.2"/><text class="t" x="56" y="19.5">auditlog</text><text y="54.5"><tspan x="4">#</tspan><tspan x="21.5">auditid</tspan><tspan x="79.5">int8</tspan></text><text y="81.1"><tspan x="4">*</tspan><tspan x="21.5">userid</tspan><tspan x="79.5">int8</tspan></text></g>
<g id="profiles" transform="translate(1052.5 4877)"><rect class="h" width="124" height="26.5"/><rect class="b" y="26.5" width="124" height="61.7"/><path d="M0 35H124M0 61.6H124M17.5 35V88.2M88 35V88.2"/><text class="t" x="62" y="19.5">profiles</text><text y="54.5"><tspan x="4">#</tspan><tspan x="21.5">profileid</tspan><tspan x="92">int8</tspan></text><text y="81.1"><tspan x="4">*</tspan><tspan x="21.5">userid</tspan><tspan x="92">int8</tspan></text></g>
<g id="sessions" transform="translate(1020.5 5050)"><rect class="h" width="187.5" height="26.5"/><rect class="b" y="26.5" width="187.5" height="61.7"/><path d="M0 35H187.5M0 61.6H187.5M17.5 35V88.2M93 35V88.2"/><text class="t" x="93.75" y="19.5">sessions</text><text y="54.5"><tspan x="4">#</tspan><tspan x="21.5">sessionid</tspan><tspan x="97">varchar(32)</tspan></text><text y="81.1"><tspan x="4">*</tspan><tspan x="21.5">userid</tspan><tspan x="97">int8</tspan></text></g>
<g id="sysmap_element_url" transform="translate(383 5378.5)"><rect class="h" width="211" height="26.5"/><rect class="b" y="26.5" width="211" height="61.7"/><path d="M0 35H211M0 61.6H211M17.5 35V88.2M175 35V88.2"/><text class="t" x="105.5" y="19.5">sysmap_element_url</text><text y="54.5"><tspan x="4">#</tspan><tspan x="21.5">sysmapelementurlid</tspan><tspan x="179">int8</tspan></text><text y="81.1"><tspan x="4">*</tspan><tspan x="21.5">selementid</tspan><tspan x="179">int8</tspan></text></g>
<g id="sysmaps_elements" transform="translate(700 5404.5)"><rect class="h" width="211" height="26.5"/><rect class="b" y="26.5" width="211" height="168.1"/><path d="M0 35H211M0 61.6H211M0 88.2H211M0 114.8H211M0 141.4H211M0 168H211M17.5 35V194.6M175 35V194.6"/><text class="t" x="105.5" y="19.5">sysmaps_elements</text><text y="54.5"><tspan x="4">#</tspan><tspan x="21.5">selementid</tspan><tspan x="179">int8</tspan></text><text y="81.1"><tspan x="4">*</tspan><tspan x="21.5">sysmapid</tspan><tspan x="179">int8</tspan></text><text y="107.7"><tspan x="21.5">iconid_off</tspan><tspan x="179">int8</tspan></text><text y="134.3"><tspan x="21.5">iconid_on</tspan><tspan x="179">int8</tspan></text><text y="160.9"><tspan x="21.5">iconid_disabled</tspan><tspan x="179">int8</tspan></text><text y="187.5"><tspan x="21.5">iconid_maintenance</tspan><tspan x="179">int8</tspan></text></g>
<g id="sysmap_url" transform="translate(729.5 5264)"><rect class="h" width="152" height="26.5"/><rect class="b" y="26.5" width="152" height="61.7"/><path d="M0 35H152M0 61.6H152M17.5 35V88.2M116 35V88.2"/><text class="t" x="76" y="19.5">sysmap_url</text><text y="54.5"><tspan x="4">#</tspan><tspan x="21.5">sysmapurlid</tspan><tspan x="120">int8</tspan></text><text y="81.1"><tspan x="4">*</tspan><tspan x="21.5">sysmapid</tspan><tspan x="120">int8</tspan></text></g>
<g id="sysmaps" transform="translate(1032.5 5173.5)"><rect class="h" width="163" height="26.5"/><rect class="b" y="26.5" width="163" height="114.9"/><path d="M0 35H163M0 61.6H163M0 88.2H163M0 114.8H163M17.5 35V141.4M126.5 35V141.4"/><text class="t" x="81.5" y="19.5">sysmaps</text><text y="54.5"><tspan x="4">#</tspan><tspan x="21.5">sysmapid</tspan><tspan x="130.5">int8</tspan></text><text y="81.1"><tspan x="21.5">backgroundid</tspan><tspan x="130.5">int8</tspan></text><text y="107.7"><tspan x="21.5">iconmapid</tspan><tspan x="130.5">int8</tspan></text><text y="134.3"><tspan x="4">*</tspan><tspan x="21.5">userid</tspan><tspan x="130.5">int8</tspan></text></g>
<g id="icon_map" transform="translate(1340.5 5325)"><rect class="h" width="168" height="26.5"/><rect class="b" y="26.5" width="168" height="61.7"/><path d="M0 35H168M0 61.6H168M17.5 35V88.2M132 35V88.2"/><text class="t" x="84" y="19.5">icon_map</text><text y="54.5"><tspan x="4">#</tspan><tspan x="21.5">iconmapid</tspan><tspan x="136">int8</tspan></text><text y="81.1"><tspan x="4">*</tspan><tspan x="21.5">default_iconid</tspan><tspan x="136">int8</tspan></text></g>
<g id="icon_mapping" transform="translate(1028.5 5349)"><rect class="h" width="172" height="26.5"/><rect class="b" y="26.5" width="172" height="88.3"/><path d="M0 35H172M0 61.6H172M0 88.2H172M17.5 35V114.8M136 35V114.8"/><text class="t" x="86" y="19.5">icon_mapping</text><text y="54.5"><tspan x="4">#</tspan><tspan x="21.5">iconmappingid</tspan><tspan x="140">int8</tspan></text><text y="81.1"><tspan x="4">*</tspan><tspan x="21.5">iconmapid</tspan><tspan x="140">int8</tspan></text><text y="107.7"><tspan x="4">*</tspan><tspan x="21.5">iconid</tspan><tspan x="140">int8</tspan></text></g>
<g id="images" transform="translate(1648.5 5458)"><rect class="h" width="121.5" height="26.5"/><rect class="b" y="26.5" width="121.5" height="35.1"/><path d="M0 35H121.5M17.5 35V61.6M85 35V61.6"/><text class="t" x="60.75" y="19.5">images</text><text y="54.5"><tspan x="4">#</tspan><tspan x="21.5">imageid</tspan><tspan x="89">int8</tspan></text></g>
</g>
<g id="edges">
<path d="M1042,98 C1182,118 1213,653 1352.5,653"/>
<path d="M1051,196 C1187,216 1217,653 1352.5,653"/>
<path d="M1014,355 C990,355 990,425 1026,425 C1173,425 1205.5,653 1352.5,653"/>
<path d="M1023,415 C1177,435 1211.5,1178 1365.5,1178"/>
<path d="M1042,505 C1018,505 1018,575 1054,575 C1188,575 1218.5,653 1352.5,653"/>
<path d="M1051,565 C1193,585 1223.5,1178 1365.5,1178"/>
<path d="M733.5,569 C709.5,569 709.5,619 745.5,619 C1018.5,619 1079.5,653 1352.5,653"/>
<path d="M742.5,609 C882.5,629 913,926 1053,926"/>
<path d="M1020,654 C996,654 996,724 1032,724 C1176,724 1208.5,653 1352.5,653"/>
<path d="M1029,714 C1179,734 1212.5,1990 1362.5,1990"/>
<path d="M1035,803 C1011,803 1011,853 1047,853 C1184,853 1215.5,653 1352.5,653"/>
<path d="M1044,843 C1177,863 1207.5,2624 1340.5,2624"/>
<path d="M1361.5,694 C1490.5,714 1519.5,1437 1648.5,1437"/>
<path d="M1053,952 C1029,952 1029,1002 1065,1002 C1199,1002 1228.5,1990 1362.5,1990"/>
<path d="M1062,992 C1199,1012 1228.5,1178 1365.5,1178"/>
<path d="M1003.5,1152 C979.5,1152 979.5,1202 1015.5,1202 C1289.5,1202 1350.5,3117 1624.5,3117"/>
<path d="M1012.5,1192 C1171.5,1212 1206.5,1178 1365.5,1178"/>
<path d="M1055.5,1302 C1031.5,1302 1031.5,1352 1067.5,1352 C1200.5,1352 1229.5,1990 1362.5,1990"/>
<path d="M1064.5,1342 C1250.5,1342 1374.5,1267 1374.5,1192"/>
<path d="M1014,1451 C990,1451 990,1501 1026,1501 C1177,1501 1211.5,1990 1362.5,1990"/>
<path d="M1023,1491 C1234,1491 1374.5,1342 1374.5,1192"/>
<path d="M1015.5,1600 C991.5,1600 991.5,1650 1027.5,1650 C1173.5,1650 1206.5,653 1352.5,653"/>
<path d="M1024.5,1640 C1166.5,1660 1198.5,2624 1340.5,2624"/>
<path d="M677,1331 C653,1331 653,1381 689,1381 C1100,1381 1374.5,1286 1374.5,1192"/>
<path d="M686,1371 C834,1391 866,1723 1014,1723"/>
<path d="M1361.5,1451 C1490.5,1471 1519.5,1437 1648.5,1437"/>
<path d="M90.5,1688 C241.5,1708 275,1675 426,1675"/>
<path d="M420.5,1797 C396.5,1797 396.5,1847 432.5,1847 C574.5,1847 606,1749 748,1749"/>
<path d="M429.5,1837 C569.5,1857 601.5,1872 741.5,1872"/>
<path d="M757,1789 C882,1809 910,1899 1035,1899"/>
<path d="M750.5,1912 C878.5,1932 907,1899 1035,1899"/>
<path d="M741,2034 C876,2054 905.5,2022 1040.5,2022"/>
<path d="M1014,1750 C990,1750 990,1826 1026,1826 C1168,1826 1198.5,2624 1340.5,2624"/>
<path d="M1014,1776 C990,1776 990,1826 1026,1826 C1235,1826 1374.5,1509 1374.5,1192"/>
<path d="M1014,1803 C960,1810 960,1840 1040,1830 C1090,1822 1070,1740 1031,1731"/>
<path d="M1044,1939 C1177,1959 1207.5,2624 1340.5,2624"/>
<path d="M1039,2145 C1015,2145 1015,2195 1051,2195 C1181,2195 1210.5,2624 1340.5,2624"/>
<path d="M1048,2185 C1244,2185 1374.5,1688 1374.5,1192"/>
<path d="M407,2130 C383,2130 383,2207 419,2207 C834,2207 925.5,2624 1340.5,2624"/>
<path d="M407,2157 C383,2157 383,2212 419,2212 C840,2212 930,2624 1340.5,2624"/>
<path d="M416,2197 C558,2217 590,2635 732,2635"/>
<path d="M39.5,2210 C15.5,2210 15.5,2260 51.5,2260 C494.5,2260 592,2864 1035,2864"/>
<path d="M48.5,2250 C192.5,2270 225.5,2330 369.5,2330"/>
<path d="M19.5,2360 C4,2360 4,2410 31.5,2410 C183.5,2410 217.5,2330 369.5,2330"/>
<path d="M28.5,2400 C345.5,2420 415,2635 732,2635"/>
<path d="M369.5,2357 C345.5,2357 345.5,2407 381.5,2407 C539.5,2407 574,2635 732,2635"/>
<path d="M369.5,2383 C315.5,2390 315.5,2420 395.5,2410 C445.5,2402 425.5,2347 386.5,2338"/>
<path d="M708,2368 C684,2368 684,2418 720,2418 C866,2418 898.5,2368 1044.5,2368"/>
<path d="M717,2408 C864,2428 897.5,2368 1044.5,2368"/>
<path d="M1053.5,2408 C1182.5,2428 1211.5,2624 1340.5,2624"/>
<path d="M100.5,2509 C76.5,2509 76.5,2559 112.5,2559 C246.5,2559 276,2581 410,2581"/>
<path d="M109.5,2549 C389.5,2569 452,2635 732,2635"/>
<path d="M73,2632 C49,2632 49,2682 85,2682 C231,2682 264,2581 410,2581"/>
<path d="M82,2672 C230,2692 262,2581 410,2581"/>
<path d="M410,2608 C356,2615 356,2645 436,2635 C486,2627 466,2598 427,2589"/>
<path d="M410,2634 C386,2634 386,2684 422,2684 C562,2684 592,2635 732,2635"/>
<path d="M419,2674 C560,2694 591,2635 732,2635"/>
<path d="M732,2662 C708,2662 708,2765 744,2765 C1012,2765 1072.5,2624 1340.5,2624"/>
<path d="M732,2688 C678,2695 678,2725 758,2715 C808,2707 788,2652 749,2643"/>
<path d="M732,2715 C708,2715 708,2765 744,2765 C927,2765 1049.5,2400 1049.5,2035"/>
<path d="M741,2755 C878,2775 907.5,2368 1044.5,2368"/>
<path d="M1038,2541 C1014,2541 1014,2591 1050,2591 C1186,2591 1216.5,653 1352.5,653"/>
<path d="M1047,2581 C1183,2601 1212.5,4109 1348.5,4109"/>
<path d="M1019,2741 C995,2741 995,2791 1031,2791 C1176,2791 1207.5,653 1352.5,653"/>
<path d="M1028,2781 C1182,2801 1216.5,4597 1370.5,4597"/>
<path d="M1340.5,2650 C1286.5,2657 1286.5,2687 1366.5,2677 C1416.5,2669 1396.5,2641 1357.5,2632"/>
<path d="M1340.5,2677 C1316.5,2677 1316.5,2727 1352.5,2727 C1474.5,2727 1502.5,3117 1624.5,3117"/>
<path d="M1340.5,2703 C1286.5,2710 1286.5,2740 1366.5,2730 C1416.5,2722 1396.5,2641 1357.5,2632"/>
<path d="M404,2797 C552,2817 584,2635 732,2635"/>
<path d="M398,2907 C374,2907 374,2957 410,2957 C555,2957 587,2635 732,2635"/>
<path d="M407,2947 C553,2967 586,2635 732,2635"/>
<path d="M726.5,2864 C702.5,2864 702.5,2940 738.5,2940 C871.5,2940 902,2864 1035,2864"/>
<path d="M726.5,2890 C702.5,2890 702.5,2940 738.5,2940 C1009.5,2940 1069.5,2624 1340.5,2624"/>
<path d="M726.5,2917 C672.5,2924 672.5,2954 752.5,2944 C802.5,2936 782.5,2854 743.5,2845"/>
<path d="M1044,2904 C1177,2924 1207.5,2624 1340.5,2624"/>
<path d="M75.5,3096 C51.5,3096 51.5,3146 87.5,3146 C238.5,3146 271,3229 422,3229"/>
<path d="M84.5,3136 C375.5,3156 441,2635 732,2635"/>
<path d="M407,3107 C383,3107 383,3157 419,3157 C557,3157 588.5,2837 726.5,2837"/>
<path d="M416,3147 C558,3167 590,2635 732,2635"/>
<path d="M689,3091 C665,3091 665,3141 701,3141 C851,3141 885,2864 1035,2864"/>
<path d="M698,3131 C850,3151 883,2864 1035,2864"/>
<path d="M431,3269 C564,3289 593.5,2837 726.5,2837"/>
<path d="M1028.5,3166 C1004.5,3166 1004.5,3216 1040.5,3216 C1175.5,3216 1205.5,2624 1340.5,2624"/>
<path d="M1037.5,3206 C1173.5,3226 1204.5,2624 1340.5,2624"/>
<path d="M1037.5,3328 C1173.5,3348 1204.5,2624 1340.5,2624"/>
<path d="M410,3378 C386,3378 386,3428 422,3428 C698,3428 759,2864 1035,2864"/>
<path d="M419,3418 C560,3438 591,2635 732,2635"/>
<path d="M720,3450 C696,3450 696,3500 732,3500 C873,3500 903.5,3928 1044.5,3928"/>
<path d="M729,3490 C1114,3490 1371.5,2746 1371.5,2003"/>
<path d="M1052.5,3437 C1028.5,3437 1028.5,3487 1064.5,3487 C1248.5,3487 1371.5,2745 1371.5,2003"/>
<path d="M1061.5,3477 C1200.5,3497 1231.5,4597 1370.5,4597"/>
<path d="M1064.5,3573 C1188.5,3593 1216.5,2624 1340.5,2624"/>
<path d="M1047,3696 C1179,3716 1208.5,2624 1340.5,2624"/>
<path d="M420.5,3854 C396.5,3854 396.5,3904 432.5,3904 C567.5,3904 597,2635 732,2635"/>
<path d="M429.5,3894 C567.5,3914 598,4520 736,4520"/>
<path d="M737,3840 C875,3860 906.5,3928 1044.5,3928"/>
<path d="M1010,3805 C986,3805 986,3855 1022,3855 C1389,3855 1633.5,3492 1633.5,3130"/>
<path d="M1019,3845 C1164,3865 1195.5,2624 1340.5,2624"/>
<path d="M706.5,3948 C682.5,3948 682.5,3998 718.5,3998 C862.5,3998 895,4629 1039,4629"/>
<path d="M715.5,3988 C1109,3988 1371.5,2995 1371.5,2003"/>
<path d="M1044.5,3955 C1020.5,3955 1020.5,4005 1056.5,4005 C1184.5,4005 1212.5,2624 1340.5,2624"/>
<path d="M1053.5,3995 C1196.5,4015 1227.5,4597 1370.5,4597"/>
<path d="M716,4098 C692,4098 692,4148 728,4148 C865,4148 895.5,5222 1032.5,5222"/>
<path d="M725,4138 C1113,4138 1371.5,3071 1371.5,2003"/>
<path d="M1038,4104 C1014,4104 1014,4207 1050,4207 C1414.5,4207 1657.5,2829 1657.5,1451"/>
<path d="M1038,4130 C1014,4130 1014,4207 1050,4207 C1193,4207 1224.5,4205 1367.5,4205"/>
<path d="M1038,4157 C1014,4157 1014,4207 1050,4207 C1194,4207 1226.5,4597 1370.5,4597"/>
<path d="M1047,4197 C1183,4217 1212.5,4109 1348.5,4109"/>
<path d="M82.5,4198 C236.5,4218 270.5,4320 424.5,4320"/>
<path d="M729.5,4248 C705.5,4248 705.5,4298 741.5,4298 C877.5,4298 908.5,3928 1044.5,3928"/>
<path d="M738.5,4288 C1022.5,4308 1086.5,4597 1370.5,4597"/>
<path d="M1038,4307 C1014,4307 1014,4357 1050,4357 C1194,4357 1226.5,4597 1370.5,4597"/>
<path d="M1047,4347 C1233,4347 1357.5,4235 1357.5,4122.6"/>
<path d="M1295,4328 C1271,4328 1271,4378 1307,4378 C1503,4378 1633.5,3754 1633.5,3130"/>
<path d="M1304,4368 C1451,4388 1484,4354 1631,4354"/>
<path d="M75.5,4307 C51.5,4307 51.5,4357 87.5,4357 C239.5,4357 272.5,4320 424.5,4320"/>
<path d="M84.5,4347 C237.5,4367 271.5,4320 424.5,4320"/>
<path d="M433.5,4360 C569.5,4380 600,4520 736,4520"/>
<path d="M730.5,4397 C706.5,4397 706.5,4447 742.5,4447 C875.5,4447 906,4629 1039,4629"/>
<path d="M739.5,4437 C876.5,4457 907.5,3928 1044.5,3928"/>
<path d="M105,4469 C249,4489 280.5,4320 424.5,4320"/>
<path d="M1027,4456 C1003,4456 1003,4506 1039,4506 C1188,4506 1221.5,4597 1370.5,4597"/>
<path d="M1036,4496 C1240,4496 1376.5,4357 1376.5,4218.6"/>
<path d="M400.5,4519 C376.5,4519 376.5,4569 412.5,4569 C558.5,4569 590,4520 736,4520"/>
<path d="M409.5,4559 C556.5,4579 589,4520 736,4520"/>
<path d="M736,4546 C682,4553 682,4583 762,4573 C812,4565 792,4537 753,4528"/>
<path d="M1048,4669 C1193,4689 1225.5,4597 1370.5,4597"/>
<path d="M398,4642 C374,4642 374,4692 410,4692 C557,4692 589,4520 736,4520"/>
<path d="M407,4682 C555,4702 588,4520 736,4520"/>
<path d="M714.5,4669 C690.5,4669 690.5,4719 726.5,4719 C867.5,4719 898,4629 1039,4629"/>
<path d="M723.5,4709 C1014.5,4729 1079.5,4597 1370.5,4597"/>
<path d="M738.5,4831 C882.5,4851 914,4802 1058,4802"/>
<path d="M1067,4842 C1254.5,4842 1379.5,4726 1379.5,4610.5"/>
<path d="M72.5,4871 C48.5,4871 48.5,4921 84.5,4921 C232.5,4921 266,5223 414,5223"/>
<path d="M81.5,4911 C376.5,4931 441,4520 736,4520"/>
<path d="M1061.5,4965 C1252,4965 1379.5,4788 1379.5,4610.5"/>
<path d="M724,5060 C700,5060 700,5110 736,5110 C869,5110 899.5,5222 1032.5,5222"/>
<path d="M733,5100 C1121,5100 1379.5,4855 1379.5,4610.5"/>
<path d="M1029.5,5138 C1239.5,5138 1379.5,4874 1379.5,4610.5"/>
<path d="M1032.5,5248 C1008.5,5248 1008.5,5325 1044.5,5325 C1316.5,5325 1376.5,5506 1648.5,5506"/>
<path d="M1032.5,5275 C1008.5,5275 1008.5,5325 1044.5,5325 C1177.5,5325 1207.5,5373 1340.5,5373"/>
<path d="M1041.5,5315 C1244,5315 1379.5,4963 1379.5,4610.5"/>
<path d="M414,5249 C390,5249 390,5326 426,5326 C699,5326 759.5,5222 1032.5,5222"/>
<path d="M414,5276 C390,5276 390,5326 426,5326 C549,5326 577,5453 700,5453"/>
<path d="M423,5316 C548,5336 575,5453 700,5453"/>
<path d="M738.5,5352 C870.5,5372 900.5,5222 1032.5,5222"/>
<path d="M1349.5,5413 C1484.5,5433 1513.5,5506 1648.5,5506"/>
<path d="M1028.5,5424 C1004.5,5424 1004.5,5474 1040.5,5474 C1175.5,5474 1205.5,5373 1340.5,5373"/>
<path d="M1037.5,5464 C1312.5,5484 1373.5,5506 1648.5,5506"/>
<path d="M392,5467 C531,5487 561,5453 700,5453"/>
<path d="M700,5479 C676,5479 676,5609 712,5609 C856,5609 888.5,5222 1032.5,5222"/>
<path d="M700,5506 C676,5506 676,5615 712,5615 C1133,5615 1227.5,5506 1648.5,5506"/>
<path d="M700,5532 C676,5532 676,5625 712,5625 C1133,5625 1227.5,5506 1648.5,5506"/>
<path d="M700,5559 C676,5559 676,5640 712,5640 C1133,5640 1227.5,5506 1648.5,5506"/>
<path d="M709,5599 C1130,5660 1227.5,5506 1648.5,5506"/>
</g>
</svg>
